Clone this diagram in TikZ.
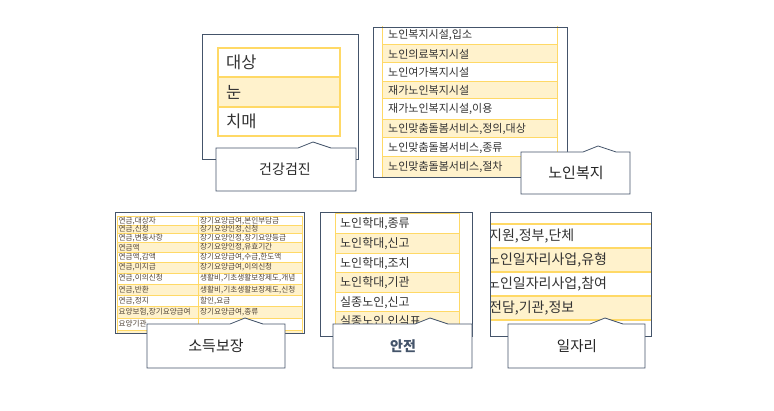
\documentclass[tikz,border=0pt]{standalone}
\usepackage{fontspec}
\setmainfont{Noto Sans CJK KR}
\definecolor{frameC}{HTML}{44546A}
\definecolor{goldC}{HTML}{FFD966}
\definecolor{cellY}{HTML}{FFF2CC}
\definecolor{txtC}{HTML}{333333}
\definecolor{lblC}{HTML}{262626}
\newcommand\lblbox[5]{%
  \filldraw[fill=white,draw=frameC,line width=0.8pt,line join=miter]
    (#1,#4) -- (#1,#2) -- (#5-15,#2) -- (#5,#2-6) -- (#5+18,#2) -- (#3,#2) -- (#3,#4) -- cycle;}
\tikzset{
  cardframe/.style={draw=frameC,line width=0.8pt},
  cellbig/.style={draw=goldC,line width=1.3pt},
  cellmid/.style={draw=goldC,line width=1pt},
  celltiny/.style={draw=goldC,line width=0.5pt},
  celltext/.style={anchor=west,inner sep=0pt,text=txtC},
  tinytext/.style={anchor=west,inner sep=0pt,text=txtC!80!brown,font=\fontsize{7.6}{8}\selectfont},
  lbltext/.style={inner sep=0pt,text=lblC},
}
\begin{document}
\begin{tikzpicture}[x=1pt,y=-1pt]
\fill[white] (0,0) rectangle (774,411);
\useasboundingbox (0,0) rectangle (774,411);

% ---------- Card A : 건강검진 ----------
\begin{scope}[font=\fontsize{16.5}{16.5}\selectfont]
\foreach \ya/\yb/\t/\fc [count=\i] in {48/77/대상/white,77/107/눈/cellY,107/136/치매/white}{
  \path[cellbig,fill=\fc] (218,\ya) rectangle (340,\yb);
  \node[celltext] (a\i) at (226,{(\ya+\yb)/2}) {\t};
}
\end{scope}
\draw[cardframe] (202,34) rectangle (358,159);
\lblbox{216}{148}{356}{191}{313}
\node[lbltext,font=\fontsize{14}{14}\selectfont] (la) at (285,169) {건강검진};

% ---------- Card B : 노인복지 ----------
\begin{scope}
\clip (373,27) rectangle (567,177);
\begin{scope}[font=\fontsize{11}{11}\selectfont]
\foreach \ya/\yb/\fc in {
  20/45/white, 45/63/cellY, 63/82/white, 82/99/cellY,
  99/120/white, 120/138/cellY, 138/157/white, 157/180/cellY}{
  \path[cellmid,fill=\fc] (382,\ya) rectangle (557,\yb);
}
\node[celltext] (b1) at (388,35) {노인복지시설,입소};
\node[celltext] (b2) at (388,54) {노인의료복지시설};
\node[celltext] (b3) at (388,72.5) {노인여가복지시설};
\node[celltext] (b4) at (388,90.5) {재가노인복지시설};
\node[celltext] (b5) at (388,109.5) {재가노인복지시설,이용};
\node[celltext] (b6) at (388,129) {노인맞춤돌봄서비스,정의,대상};
\node[celltext] (b7) at (388,147.5) {노인맞춤돌봄서비스,종류};
\node[celltext] (b8) at (388,166.5) {노인맞춤돌봄서비스,절차};
\end{scope}
\end{scope}
\draw[cardframe] (373,27) rectangle (567,177);
\lblbox{521}{152}{630}{194}{598}
\node[lbltext,font=\fontsize{15}{15}\selectfont] (lb) at (576,173) {노인복지};

% ---------- Card C : 소득보장 ----------
\begin{scope}
\clip (115,212) rectangle (304,333);
\foreach \ya/\yb/\ta/\tb/\fc [count=\i] in {
  216.5/225/{연금,대상자}/{장기요양급여,본인부담금}/white,
  225/233.5/{연금,신청}/{장기요양인정,신청}/cellY,
  233.5/242.5/{연금,변동사항}/{장기요양인정,장기요양등급}/white,
  242.5/252/{연금액}/{장기요양인정,유효기간}/cellY,
  252/262/{연금액,감액}/{장기요양급여,수급,한도액}/white,
  262/273/{연금,미지급}/{장기요양급여,이의신청}/cellY,
  273/284/{연금,이의신청}/{생활비,기초생활보장제도,개념}/white,
  284/295.5/{연금,반환}/{생활비,기초생활보장제도,신청}/cellY,
  295.5/306.5/{연금,정지}/{할인,요금}/white,
  306.5/318/{요양보험,장기요양급여}/{장기요양급여,종류}/cellY,
  318/330/{요양기관}/{}/white}{
  \path[celltiny,fill=\fc] (117,\ya) rectangle (198,\yb);
  \path[celltiny,fill=\fc] (198,\ya) rectangle (302,\yb);
  \node[tinytext] (ca\i) at (118.5,{(\ya+\yb)/2}) {\ta};
  \node[tinytext] (cb\i) at (200,{(\ya+\yb)/2}) {\tb};
}
\path[celltiny,fill=cellY] (117,330) rectangle (302,340);
\end{scope}
\draw[cardframe] (115,212) rectangle (304,333);
\lblbox{147}{324}{285}{368}{245}
\node[lbltext,font=\fontsize{15}{15}\selectfont] (lc) at (216,346) {소득보장};

% ---------- Card D : 안전 ----------
\begin{scope}
\clip (320,212) rectangle (472,336);
\begin{scope}[font=\fontsize{12}{12}\selectfont]
\foreach \ya/\yb/\t/\fc/\ty [count=\i] in {
  214/234/{노인학대,종류}/white/224,
  234/254/{노인학대,신고}/cellY/244,
  254/273/{노인학대,조치}/white/263.5,
  273/293/{노인학대,기관}/cellY/283,
  293/312/{실종노인,신고}/white/302.5,
  312/340/{실종노인,인식표}/cellY/322}{
  \path[cellmid,fill=\fc] (335,\ya) rectangle (459,\yb);
  \node[celltext] (d\i) at (340,\ty) {\t};
}
\end{scope}
\end{scope}
\draw[cardframe] (320,212) rectangle (472,336);
\lblbox{333}{324}{472}{368}{430}
\node[lbltext,font=\fontsize{14}{14}\selectfont\bfseries,text=frameC] (ld) at (403,346) {안전};

% ---------- Card E : 일자리 ----------
\begin{scope}
\clip (490,212) rectangle (651,336);
\begin{scope}[font=\fontsize{14}{14}\selectfont]
\foreach \ya/\yb/\fc in {200/224/white,224/248/white,248/272/cellY,272/296/white,296/320/cellY,320/340/white}{
  \path[fill=\fc] (490,\ya) rectangle (651,\yb);
}
\foreach \yy in {224,248,272,296,320}{
  \draw[goldC,line width=1.8pt] (490,\yy) -- (651,\yy);
}
\node[celltext] (e1) at (489,236) {지원,정부,단체};
\node[celltext] (e2) at (487,260) {노인일자리사업,유형};
\node[celltext] (e3) at (487,284) {노인일자리사업,참여};
\node[celltext] (e4) at (489,308) {전담,기관,정보};
\end{scope}
\end{scope}
\draw[cardframe] (490,212) rectangle (651,336);
\lblbox{508}{324}{645}{368}{605}
\node[lbltext,font=\fontsize{14.5}{14.5}\selectfont] (le) at (577,346) {일자리};

\end{tikzpicture}
\end{document}
